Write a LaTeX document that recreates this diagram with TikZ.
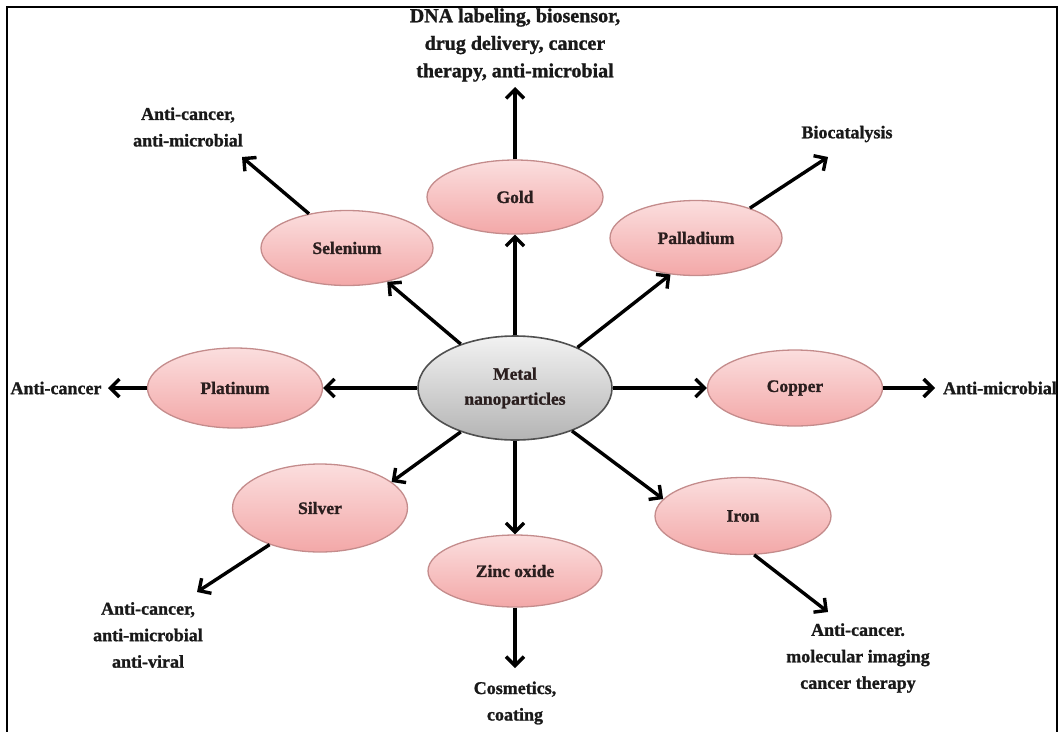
\documentclass[tikz,border=0pt]{standalone}
\usepackage{fontspec}
\setmainfont{Liberation Serif}[BoldFeatures={FakeBold=1.2}]
\usetikzlibrary{arrows.meta,shapes.geometric}
\definecolor{pinkTop}{HTML}{FBDEDE}
\definecolor{pinkBot}{HTML}{F3A8A8}
\definecolor{pinkLine}{HTML}{C48C8C}
\definecolor{grayTop}{HTML}{F2F2F2}
\definecolor{grayBot}{HTML}{B4B4B4}
\definecolor{grayLine}{HTML}{505050}
\definecolor{txtDark}{HTML}{2A1E1E}
\begin{document}
\begin{tikzpicture}[x=1pt,y=-1pt,
  metal/.style={ellipse, draw=pinkLine, line width=1.3pt, top color=pinkTop, bottom color=pinkBot,
    inner sep=0pt, font=\bfseries\fontsize{17.5}{21}\selectfont, text=txtDark},
  core/.style={ellipse, draw=grayLine, line width=1.6pt, top color=grayTop, bottom color=grayBot,
    inner sep=0pt, align=center, font=\bfseries\fontsize{17.5}{25}\selectfont, text=txtDark},
  use/.style={align=center, inner sep=0pt, font=\bfseries\fontsize{18}{26.5}\selectfont, text=black!90},
  arr/.style={-{Straight Barb[length=9pt,width=18pt]}, line width=3.4pt, black}
]
\useasboundingbox (0,0) rectangle (1062,731);
% frame (open at the bottom)
\draw[line width=2.4pt] (7,735) -- (7,7) -- (1057,7) -- (1057,735);

% central node
\node[core, minimum width=194pt, minimum height=104pt] (c) at (515,388) {Metal\\nanoparticles};

% metal nodes
\node[metal, minimum width=176pt, minimum height=74pt] (gold) at (515,197) {Gold};
\node[metal, minimum width=172pt, minimum height=75pt] (sel)  at (347,248) {Selenium};
\node[metal, minimum width=172pt, minimum height=75pt] (pal)  at (696,238) {Palladium};
\node[metal, minimum width=175pt, minimum height=80pt] (plat) at (235,388) {Platinum};
\node[metal, minimum width=175pt, minimum height=76pt] (cop)  at (795,388) {Copper};
\node[metal, minimum width=175pt, minimum height=88pt] (sil)  at (320,508) {Silver};
\node[metal, minimum width=176pt, minimum height=77pt] (iron) at (743,516) {Iron};
\node[metal, minimum width=174pt, minimum height=72pt] (zinc) at (515,571) {Zinc oxide};

% application labels
\node[use, font=\bfseries\fontsize{20}{27.5}\selectfont] (goldL) at (515,45) {DNA labeling, biosensor,\\drug delivery, cancer\\therapy, anti-microbial};
\node[use] (selL)  at (188,127) {Anti-cancer,\\anti-microbial};
\node[use] (palL)  at (847,134) {Biocatalysis};
\node[use] (platL) at (56,388)  {Anti-cancer};
\node[use] (copL)  at (1000,388) {Anti-microbial};
\node[use] (silL)  at (148,635) {Anti-cancer,\\anti-microbial\\anti-viral};
\node[use] (zincL) at (515,703) {Cosmetics,\\coating};
\node[use] (ironL) at (858,658) {Anti-cancer.\\molecular imaging\\cancer therapy};

% arrow end points near labels
\coordinate (goldT) at (515,87);
\coordinate (selT)  at (242,157);
\coordinate (palT)  at (828,157);
\coordinate (platT) at (108,388);
\coordinate (copT)  at (935,388);
\coordinate (silT)  at (197,592);
\coordinate (zincT) at (515,668);
\coordinate (ironT) at (828,612);

% center -> metals
\draw[arr] (c) -- (gold);
\draw[arr] (c.141) -- (sel.-40);
\draw[arr] (c.33) -- (pal.235);
\draw[arr] (c) -- (plat);
\draw[arr] (c) -- (cop);
\draw[arr] (c.219) -- (sil.20);
\draw[arr] (c.-37) -- (iron.168);
\draw[arr] (c) -- (zinc);

% metals -> applications
\draw[arr] (gold.90) -- (goldT);
\draw[arr] (sel.138) -- (selT);
\draw[arr] (pal.29) -- (palT);
\draw[arr] (plat.180) -- (platT);
\draw[arr] (cop.0) -- (copT);
\draw[arr] (sil.216) -- (silT);
\draw[arr] (zinc.-90) -- (zincT);
\draw[arr] (iron.-74) -- (ironT);
\end{tikzpicture}
\end{document}
